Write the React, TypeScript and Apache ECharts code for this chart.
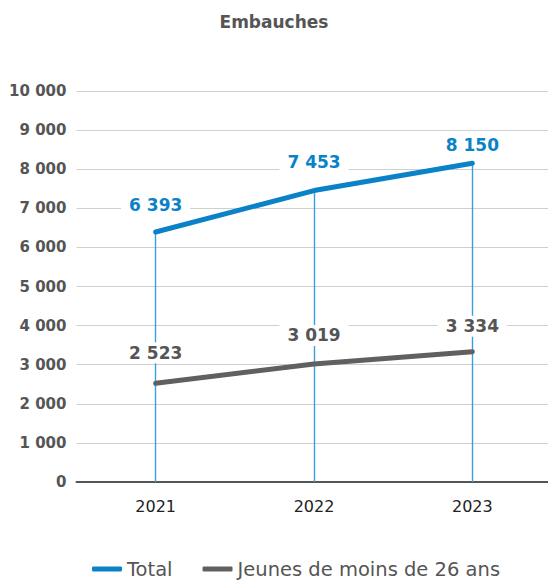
import React, { useEffect, useRef } from "react";
import * as echarts from "echarts";

const title = "Embauches";
const years = ["2021", "2022", "2023"];
const totalName = "Total";
const totalValues = [6393, 7453, 8150];
const youngName = "Jeunes de moins de 26 ans";
const youngValues = [2523, 3019, 3334];
const yMin = 0;
const yMax = 10000;
const yStep = 1000;

const fmt = (v: number) => String(v).replace(/\B(?=(\d{3})+(?!\d))/g, " ");
const FONT = "'DejaVu Sans', sans-serif";

export default function App() {
  const ref = useRef<HTMLDivElement>(null);
  useEffect(() => {
    const chart = echarts.init(ref.current!, null, { renderer: "svg" });
    const totalLabelDist = [17, 18, 8];
    const youngLabelDist = [20, 18, 15];
    chart.setOption({
      animation: false,
      backgroundColor: "#fff",
      textStyle: { fontFamily: FONT },
      title: {
        text: title,
        left: "center",
        top: 8,
        textStyle: { fontFamily: FONT, fontSize: 17, fontWeight: "bold", color: "#555" },
      },
      legend: {
        bottom: -2,
        left: 87,
        itemWidth: 30,
        itemHeight: 5,
        itemGap: 30,
        icon: "roundRect",
        textStyle: { fontFamily: FONT, fontSize: 19.5, color: "#555" },
        data: [totalName, youngName],
      },
      grid: {
        left: 76.5,
        width: 475,
        top: 91,
        bottom: 100,
        containLabel: false,
        outerBoundsMode: "none",
      },
      xAxis: {
        type: "category",
        data: years,
        boundaryGap: true,
        axisLine: { show: true, lineStyle: { color: "#555", width: 2 } },
        axisTick: { show: false },
        axisLabel: { color: "#222", fontSize: 16, fontFamily: FONT, margin: 16 },
        splitLine: { show: false },
      },
      yAxis: {
        type: "value",
        min: yMin,
        max: yMax,
        interval: yStep,
        axisLine: { show: false },
        axisTick: { show: false },
        axisLabel: {
          color: "#555",
          fontSize: 15,
          fontWeight: "bold",
          fontFamily: FONT,
          margin: 10,
          formatter: (v: number) => fmt(v),
        },
        splitLine: { lineStyle: { color: "#cfcfcf", width: 1 } },
      },
      series: [
        {
          name: totalName,
          type: "line",
          data: totalValues.map((v, i) => ({ value: v, label: { distance: totalLabelDist[i] } })),
          color: "#0a82c8",
          lineStyle: { width: 5, color: "#0a82c8", cap: "round" },
          symbol: "circle",
          symbolSize: 0,
          showSymbol: true,
          z: 3,
          label: {
            show: true,
            position: "top",
            formatter: (p: any) => fmt(p.value),
            color: "#0a82c8",
            fontSize: 17,
            fontWeight: "bold",
            fontFamily: FONT,
            backgroundColor: "#fff",
            padding: [2, 8],
          },
          markLine: {
            silent: true,
            symbol: "none",
            label: { show: false },
            lineStyle: { color: "#3a9ede", width: 1.4, type: "solid", opacity: 1 },
            z: 1,
            data: years.map((y, i) => [
              { coord: [y, 0] },
              { coord: [y, totalValues[i]] },
            ]),
          },
        },
        {
          name: youngName,
          type: "line",
          data: youngValues.map((v, i) => ({ value: v, label: { distance: youngLabelDist[i] } })),
          color: "#606060",
          lineStyle: { width: 5, color: "#606060", cap: "round" },
          symbol: "circle",
          symbolSize: 0,
          showSymbol: true,
          z: 4,
          label: {
            show: true,
            position: "top",
            formatter: (p: any) => fmt(p.value),
            color: "#555",
            fontSize: 17,
            fontWeight: "bold",
            fontFamily: FONT,
            backgroundColor: "#fff",
            padding: [2, 8],
          },
        },
      ],
    });
    return () => chart.dispose();
  }, []);
  return (
    <div
      ref={ref}
      style={{ position: "fixed", left: 0, top: 0, width: 548, height: 582 }}
    />
  );
}
